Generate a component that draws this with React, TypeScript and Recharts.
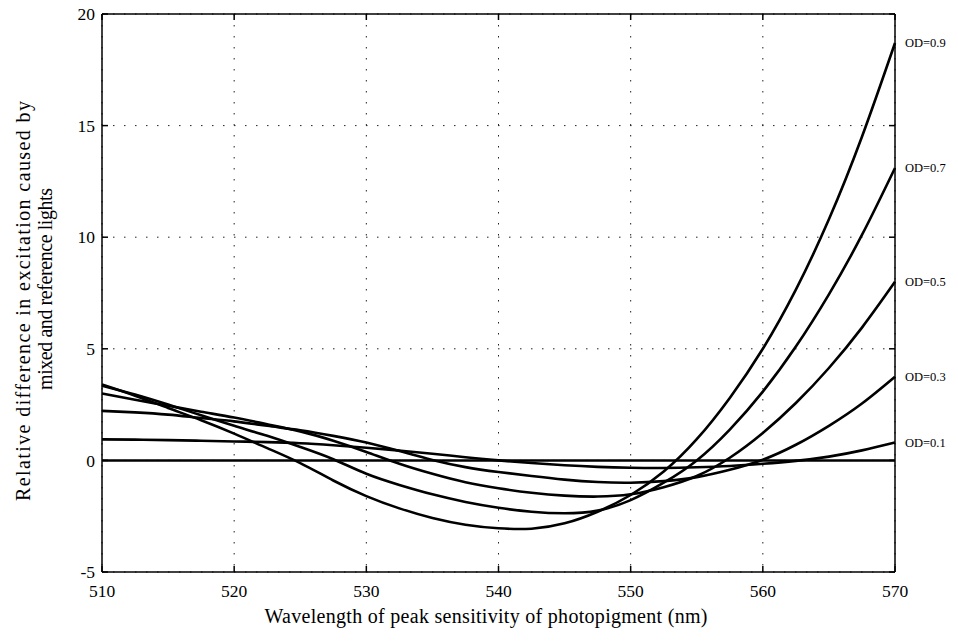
import React from 'react';
import { LineChart, Line, XAxis, YAxis, CartesianGrid, ReferenceLine } from 'recharts';

// wavelength of peak sensitivity (nm)
const wavelengths = [
  510, 512.5, 515, 517.5, 520, 522.5, 525, 527.5, 530, 532.5, 535, 537.5, 540,
  542.5, 545, 547.5, 550, 552.5, 555, 557.5, 560, 562.5, 565, 567.5, 570,
];

// relative difference in excitation, one array per optical density
const od01 = [
  0.94, 0.93, 0.91, 0.88, 0.85, 0.82, 0.77, 0.68, 0.57, 0.44, 0.3, 0.14, 0.0,
  -0.12, -0.22, -0.29, -0.33, -0.34, -0.31, -0.25, -0.15, -0.02, 0.17, 0.45, 0.8,
];
const od03 = [
  2.22, 2.15, 2.05, 1.9, 1.75, 1.55, 1.35, 1.1, 0.8, 0.42, 0.02, -0.3, -0.52,
  -0.7, -0.86, -0.97, -1.0, -0.93, -0.75, -0.42, 0.03, 0.7, 1.55, 2.55, 3.75,
];
const od05 = [
  3.0, 2.72, 2.45, 2.18, 1.92, 1.62, 1.3, 0.88, 0.38, -0.15, -0.6, -0.98, -1.25,
  -1.45, -1.58, -1.62, -1.52, -1.2, -0.7, 0.12, 1.23, 2.57, 4.14, 5.95, 8.0,
];
const od07 = [
  3.35, 2.95, 2.5, 2.02, 1.55, 1.1, 0.6, 0.05, -0.6, -1.1, -1.52, -1.86, -2.12,
  -2.3, -2.37, -2.25, -1.78, -1.0, 0.0, 1.38, 3.08, 5.1, 7.44, 10.1, 13.1,
];
const od09 = [
  3.4, 2.9, 2.35, 1.8, 1.2, 0.55, -0.12, -0.9, -1.6, -2.15, -2.58, -2.88, -3.04,
  -3.06, -2.82, -2.3, -1.55, -0.5, 0.95, 2.8, 5.0, 7.65, 10.8, 14.5, 18.7,
];

const xTicks = [510, 520, 530, 540, 550, 560, 570];
const yTicks = [-5, 0, 5, 10, 15, 20];

const data = wavelengths.map((w, i) => ({
  w,
  od01: od01[i],
  od03: od03[i],
  od05: od05[i],
  od07: od07[i],
  od09: od09[i],
}));

const serif = '"Liberation Serif", "Times New Roman", serif';
const last = wavelengths.length - 1;

const endLabel = (text: string) => (props: any) => {
  const { x, y, index } = props;
  if (index !== last) return <g key={index} />;
  return (
    <text key={index} x={x + 10} y={y} dy={4} fontSize={12.5} fontFamily={serif} fill="#000">
      {text}
    </text>
  );
};

const series = [
  { key: 'od01', label: 'OD=0.1' },
  { key: 'od03', label: 'OD=0.3' },
  { key: 'od05', label: 'OD=0.5' },
  { key: 'od07', label: 'OD=0.7' },
  { key: 'od09', label: 'OD=0.9' },
];

const tickStyle = { fontSize: 17.5, fontFamily: serif, fill: '#000' };
const axisStroke = { stroke: '#000', strokeWidth: 1.5 };

export default function App() {
  return (
    <div style={{ position: 'absolute', left: 0, top: 0, width: 958, height: 641, background: '#fff' }}>
      <LineChart
        width={958}
        height={641}
        data={data}
        margin={{ top: 13, right: 62, bottom: 39, left: 42 }}
      >
        <CartesianGrid strokeDasharray="1.5 9.5" stroke="#222" />
        <XAxis
          dataKey="w"
          type="number"
          domain={[510, 570]}
          ticks={xTicks}
          height={30}
          tickSize={-6}
          tickMargin={19}
          tick={tickStyle}
          axisLine={axisStroke}
          tickLine={axisStroke}
        />
        <XAxis
          xAxisId="top"
          orientation="top"
          dataKey="w"
          type="number"
          domain={[510, 570]}
          ticks={xTicks}
          height={1}
          tickSize={-6}
          tickFormatter={() => ''}
          axisLine={axisStroke}
          tickLine={axisStroke}
        />
        <YAxis
          type="number"
          domain={[-5, 20]}
          ticks={yTicks}
          width={60}
          tickSize={-6}
          tickMargin={13}
          tick={tickStyle}
          axisLine={axisStroke}
          tickLine={axisStroke}
        />
        <YAxis
          yAxisId="right"
          orientation="right"
          type="number"
          domain={[-5, 20]}
          ticks={yTicks}
          width={1}
          tickSize={-6}
          tickFormatter={() => ''}
          axisLine={axisStroke}
          tickLine={axisStroke}
        />
        <ReferenceLine y={0} stroke="#000" strokeWidth={2.5} />
        {series.map((s) => (
          <Line
            key={s.key}
            dataKey={s.key}
            type="natural"
            stroke="#000"
            strokeWidth={2.6}
            dot={false}
            isAnimationActive={false}
            label={endLabel(s.label)}
          />
        ))}
        {/* invisible copy so the top and right axes get a domain */}
        <Line
          xAxisId="top"
          yAxisId="right"
          dataKey="od01"
          stroke="none"
          dot={false}
          isAnimationActive={false}
        />
        <text
          x={486}
          y={623}
          textAnchor="middle"
          fontSize={20}
          textLength={443}
          lengthAdjust="spacing"
          fontFamily={serif}
          fill="#000"
        >
          Wavelength of peak sensitivity of photopigment (nm)
        </text>
        <text
          transform="translate(30, 301) rotate(-90)"
          textAnchor="middle"
          fontSize={20}
          textLength={400}
          lengthAdjust="spacing"
          fontFamily={serif}
          fill="#000"
        >
          Relative difference in excitation caused by
        </text>
        <text
          transform="translate(52, 289) rotate(-90)"
          textAnchor="middle"
          fontSize={20}
          textLength={202}
          lengthAdjust="spacing"
          fontFamily={serif}
          fill="#000"
        >
          mixed and reference lights
        </text>
      </LineChart>
    </div>
  );
}
